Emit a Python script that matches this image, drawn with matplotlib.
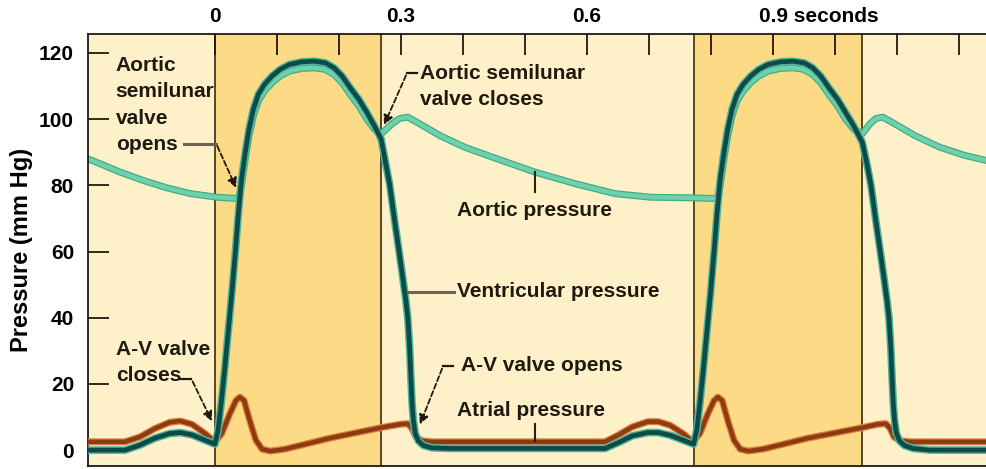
import matplotlib
matplotlib.use('Agg')
import matplotlib.pyplot as plt
from matplotlib import font_manager

# pick a narrow bold font if there is one
names = set(f.name for f in font_manager.fontManager.ttflist)
if 'Liberation Sans Narrow' in names:
    FONT = ['Liberation Sans Narrow', 'DejaVu Sans']
    FS = 17
else:
    FONT = ['Liberation Sans', 'DejaVu Sans']
    FS = 15
plt.rcParams['font.family'] = FONT
plt.rcParams['font.weight'] = 'bold'

# data (time in s, pressure in mm Hg)
vent_t = [-0.205, -0.169, -0.145, -0.121, -0.097, -0.073, -0.056, -0.037, -0.016,
          0.000, 0.005, 0.010, 0.016, 0.022, 0.028, 0.033, 0.038, 0.043, 0.049,
          0.055, 0.062, 0.070, 0.080, 0.092, 0.105, 0.120, 0.140, 0.160, 0.178,
          0.192, 0.205, 0.218, 0.232, 0.245, 0.257, 0.268, 0.276, 0.282, 0.290,
          0.297, 0.303, 0.308, 0.311, 0.314, 0.316, 0.318, 0.320, 0.323, 0.328,
          0.336, 0.350, 0.379, 0.629, 0.650, 0.673, 0.698, 0.715, 0.734, 0.755,
          0.772, 0.777, 0.782, 0.788, 0.794, 0.800, 0.805, 0.810, 0.815, 0.821,
          0.827, 0.834, 0.842, 0.852, 0.864, 0.877, 0.892, 0.912, 0.932, 0.950,
          0.964, 0.977, 0.990, 1.004, 1.017, 1.030, 1.044, 1.052, 1.058, 1.066,
          1.073, 1.079, 1.084, 1.087, 1.090, 1.092, 1.094, 1.096, 1.099, 1.104,
          1.112, 1.126, 1.153, 1.244]
vent_p = [0.0, 0.0, 0.0, 1.5, 3.6, 5.0, 5.3, 4.6, 3.0,
          1.8, 6, 14, 25, 37, 49, 60, 72, 82, 90,
          97, 103, 107.5, 110.5, 113, 115, 116.5, 117.3, 117.5, 117,
          115.5, 113, 109.5, 106, 102, 98, 94, 86, 80, 69,
          60, 52, 45, 40, 31, 22, 14, 9, 5, 2.8,
          1.4, 0.7, 0.5, 0.5, 2.2, 4.3, 5.3, 5.3, 4.5, 3.0,
          1.8, 6, 14, 25, 37, 49, 60, 72, 82, 90,
          97, 103, 107.5, 110.5, 113, 115, 116.5, 117.3, 117.5, 117,
          115.5, 113, 109.5, 106, 102, 98, 93, 86, 80, 69,
          60, 52, 45, 40, 31, 22, 14, 9, 5, 2.8,
          1.4, 0.5, 0.0, 0.0]

aort_t = [-0.205, -0.185, -0.153, -0.113, -0.077, -0.040, 0.003, 0.037, 0.040, 0.043,
          0.049, 0.055, 0.062, 0.070, 0.080, 0.092, 0.105, 0.120, 0.140, 0.160,
          0.178, 0.192, 0.205, 0.218, 0.232, 0.245, 0.257, 0.268, 0.285, 0.298,
          0.311, 0.331, 0.363, 0.403, 0.455, 0.516, 0.581, 0.645, 0.702, 0.773,
          0.809, 0.812, 0.815, 0.821, 0.827, 0.834, 0.842, 0.852, 0.864, 0.877,
          0.892, 0.912, 0.932, 0.950, 0.964, 0.977, 0.990, 1.004, 1.017, 1.030,
          1.044, 1.056, 1.066, 1.077, 1.097, 1.129, 1.169, 1.210, 1.244]
aort_p = [88, 86.5, 84, 81.3, 79.2, 77.5, 76.4, 76, 77.5, 80,
          88, 95, 101, 105.5, 108.5, 111, 113, 114.5, 115.3, 115.5,
          115, 113.5, 111, 107.5, 104, 100, 97, 95.5, 98.5, 100.2,
          100.6, 98.5, 95, 91.5, 88, 84, 80.5, 77.5, 76.4, 76.2,
          76, 77.5, 80, 88, 95, 101, 105.5, 108.5, 111, 113,
          114.5, 115.3, 115.5, 115, 113.5, 111, 107.5, 104, 100, 97,
          95.5, 98.5, 100.2, 100.6, 98.5, 95, 91.5, 89, 87.5]

atr_t = [-0.205, -0.145, -0.121, -0.097, -0.073, -0.056, -0.037, -0.016, 0.000, 0.011,
         0.024, 0.034, 0.040, 0.047, 0.056, 0.066, 0.076, 0.089, 0.113, 0.185,
         0.268, 0.298, 0.311, 0.318, 0.324, 0.334, 0.350, 0.629, 0.650, 0.673,
         0.698, 0.715, 0.734, 0.755, 0.771, 0.782, 0.795, 0.805, 0.811, 0.818,
         0.827, 0.837, 0.847, 0.860, 0.884, 0.956, 1.044, 1.069, 1.082, 1.089,
         1.095, 1.105, 1.121, 1.244]
atr_p = [2.5, 2.5, 4, 6.5, 8.4, 8.8, 7.8, 5, 2.5, 5,
         11, 15, 16, 15, 9, 3, 0.3, -0.3, 0.3, 3.6,
         6.8, 7.8, 8, 6.5, 4, 2.8, 2.5, 2.5, 4.5, 7,
         8.6, 8.6, 7.5, 5, 2.5, 5, 11, 15, 16, 15,
         9, 3, 0.3, -0.3, 0.3, 3.6, 6.8, 7.8, 8, 6.5,
         4, 2.8, 2.5, 2.5]

systole = [(0.0, 0.2675), (0.7725, 1.0435)]
y_ticks = [0, 20, 40, 60, 80, 100, 120]
top_ticks = [0.0, 0.1, 0.2, 0.3, 0.4, 0.5, 0.6, 0.7, 0.8, 0.9, 1.0, 1.1, 1.2]
top_labels = {0.0: '0', 0.3: '0.3', 0.6: '0.6'}

light_bg = '#fef0c8'
dark_bg = '#fddb86'
ink = '#1e1a12'
lead = '#6e6450'

fig = plt.figure(figsize=(9.86, 4.69), dpi=100)
ax = fig.add_axes([0.0892, 0.0064, 0.9108, 0.921])
ax.set_xlim(-0.2048, 1.2435)
ax.set_ylim(-4.8, 125.7)
ax.set_facecolor(light_bg)

for a, b in systole:
    ax.axvspan(a, b, color=dark_bg, lw=0, zorder=0)
    ax.axvline(a, color='#3a2a10', lw=1.2, zorder=1)
    ax.axvline(b, color='#3a2a10', lw=1.2, zorder=1)

# curves
rnd = dict(solid_joinstyle='round', solid_capstyle='round')
ax.plot(aort_t, aort_p, color='#3fae88', lw=5.0, zorder=2, **rnd)
ax.plot(aort_t, aort_p, color='#6fd0ab', lw=3.2, zorder=2, **rnd)
ax.plot(atr_t, atr_p, color='#d9803e', lw=5.0, zorder=3, **rnd)
ax.plot(atr_t, atr_p, color='#8e3a12', lw=3.2, zorder=3, **rnd)
ax.plot(vent_t, vent_p, color='#4fb59e', lw=5.5, zorder=4, **rnd)
ax.plot(vent_t, vent_p, color='#0e4a46', lw=3.4, zorder=4, **rnd)

# axes styling
for s in ['left', 'top', 'bottom']:
    ax.spines[s].set_color(ink)
    ax.spines[s].set_linewidth(1.3)
ax.spines['right'].set_visible(False)
ax.set_yticks(y_ticks)
ax.set_yticklabels([str(v) for v in y_ticks], fontsize=FS, fontweight='bold')
ax.tick_params(axis='y', direction='in', length=15, width=1.3, color=ink, pad=10)
ax.xaxis.tick_top()
ax.set_xticks(top_ticks)
ax.set_xticklabels([''] * len(top_ticks))
ax.tick_params(axis='x', direction='in', length=15, width=1.3, color=ink, top=True, bottom=False)
for v, s in top_labels.items():
    ax.text(v, 128.0, s, ha='center', va='bottom', fontsize=FS, fontweight='bold')
ax.text(0.9 - 0.022, 128.0, '0.9 seconds', ha='left', va='bottom', fontsize=FS, fontweight='bold')
fig.text(0.022, 0.467, 'Pressure (mm Hg)', rotation=90, ha='center', va='center',
         fontsize=FS + 2, fontweight='bold')

# annotations
txt = dict(fontsize=FS, fontweight='bold', color=ink, linespacing=1.5, zorder=6)
arrow = dict(arrowstyle='-|>', color=ink, lw=1.3, ls=(0, (3, 1.5)), mutation_scale=14)

ax.text(-0.160, 119.2, 'Aortic\nsemilunar\nvalve\nopens', ha='left', va='top', **txt)
ax.plot([-0.050, 0.002], [92.6, 92.6], color=lead, lw=2.2, zorder=6)
ax.annotate('', xy=(0.036, 78.5), xytext=(0.002, 92.6), arrowprops=arrow, zorder=6)

ax.text(0.331, 116.8, 'Aortic semilunar\nvalve closes', ha='left', va='top', **txt)
ax.plot([0.310, 0.326], [114, 114], color=ink, lw=1.6, zorder=6)
ax.annotate('', xy=(0.271, 97.5), xytext=(0.310, 114), arrowprops=arrow, zorder=6)

ax.text(0.390, 72.5, 'Aortic pressure', ha='left', va='center', **txt)
ax.plot([0.516, 0.516], [78, 84], color='#2a2010', lw=1.5, zorder=5)

ax.text(0.390, 47.8, 'Ventricular pressure', ha='left', va='center', **txt)
ax.plot([0.311, 0.385], [47.8, 47.8], color=lead, lw=2.2, zorder=5)

ax.text(0.397, 25.7, 'A-V valve opens', ha='left', va='center', **txt)
ax.plot([0.368, 0.384], [25.4, 25.4], color=ink, lw=1.6, zorder=6)
ax.annotate('', xy=(0.329, 7.0), xytext=(0.368, 25.4), arrowprops=arrow, zorder=6)

ax.text(0.390, 12.0, 'Atrial pressure', ha='left', va='center', **txt)
ax.plot([0.516, 0.516], [2.8, 7.8], color='#2a2010', lw=1.5, zorder=5)

ax.text(-0.160, 33.3, 'A-V valve\ncloses', ha='left', va='top', **txt)
ax.plot([-0.056, -0.038], [21.5, 21.5], color=ink, lw=1.6, zorder=6)
ax.annotate('', xy=(-0.003, 8.0), xytext=(-0.038, 21.5), arrowprops=arrow, zorder=6)

fig.savefig('out.png', dpi=100)
